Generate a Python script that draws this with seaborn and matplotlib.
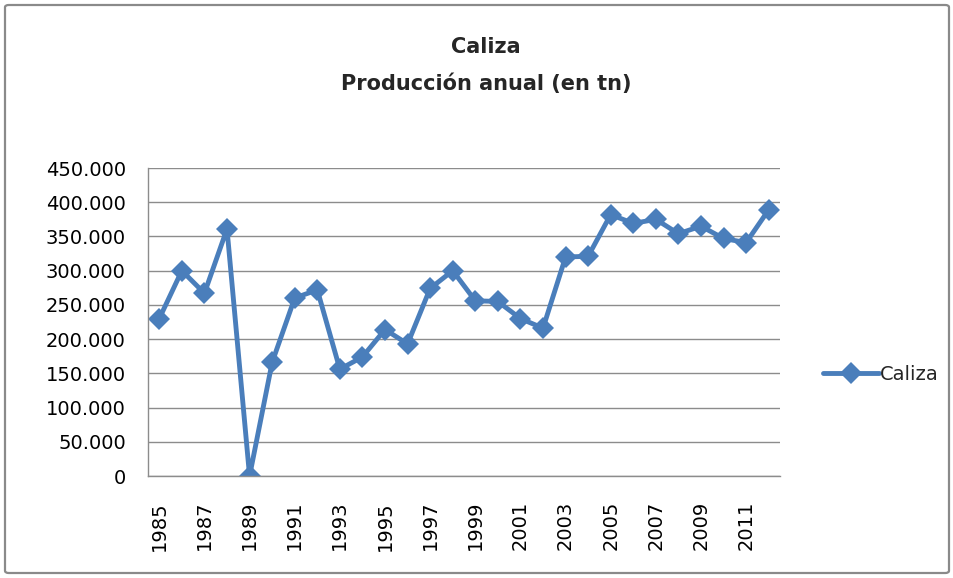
import matplotlib
matplotlib.use("Agg")
import matplotlib.pyplot as plt
import seaborn as sns
import pandas as pd
from matplotlib.ticker import FuncFormatter, FixedLocator
from matplotlib.patches import FancyBboxPatch

years = list(range(1985, 2013))
caliza = [230000, 300000, 267000, 361000, 0, 166000, 260000, 272000, 156000, 174000,
          214000, 193000, 274000, 300000, 256000, 255000, 230000, 216000, 320000, 321000,
          382000, 369000, 375000, 354000, 365000, 347000, 341000, 389000]
series_name = "Caliza"
title_line1 = "Caliza"
title_line2 = "Producción anual (en tn)"

df = pd.DataFrame({"idx": range(len(years)), "year": years, "value": caliza, "serie": series_name})

sns.set_style("white")
plt.rcParams["font.family"] = ["DejaVu Sans"]

fig = plt.figure(figsize=(9.54, 5.78), dpi=100)
ax = fig.add_axes([148/954, 1-476/578, (780-148)/954, (476-168)/578])

color = "#4a7ebb"
sns.lineplot(data=df, x="idx", y="value", hue="serie", palette=[color], marker="D",
             markersize=11, markeredgewidth=0, linewidth=3.5, ax=ax, legend=True)

ax.set_xlim(-0.5, len(years) - 0.5)
ax.set_ylim(0, 450000)
ax.set_yticks(range(0, 450001, 50000))
ax.yaxis.set_major_formatter(FuncFormatter(lambda v, p: f"{int(v):,}".replace(",", ".")))
ax.yaxis.grid(True, color="#8c8c8c", linewidth=1)
ax.set_axisbelow(True)

ax.set_xticks(list(range(0, len(years), 2)))
ax.set_xticklabels([str(y) for y in years[::2]], rotation=90)
ax.xaxis.set_minor_locator(FixedLocator([i - 0.5 for i in range(len(years) + 1)]))
ax.tick_params(axis="x", which="major", length=0, pad=18, labelsize=14, colors="black")
ax.tick_params(axis="x", which="minor", length=6, color="#8c8c8c", direction="out")
ax.tick_params(axis="y", which="major", length=7, color="#8c8c8c", direction="out",
               labelsize=14, pad=9, labelcolor="black")
ax.set_xlabel("")
ax.set_ylabel("")

for s in ["top", "right"]:
    ax.spines[s].set_visible(False)
for s in ["left", "bottom"]:
    ax.spines[s].set_color("#8c8c8c")
    ax.spines[s].set_linewidth(1)

fig.text(486/954, 1-47/578, title_line1, ha="center", va="center", fontsize=15, fontweight="bold")
fig.text(486/954, 1-84/578, title_line2, ha="center", va="center", fontsize=15, fontweight="bold")

leg = ax.legend(loc="center left", bbox_to_anchor=(1.055, 0.33), frameon=False,
                fontsize=14, handlelength=2.9, handletextpad=0.05, borderaxespad=0)

border = FancyBboxPatch((5/954, 5/578), 944/954, 568/578, boxstyle="round,pad=0,rounding_size=0.004",
                        transform=fig.transFigure, fill=False, edgecolor="#8a8a8a", linewidth=1.6)
fig.patches.append(border)

fig.savefig("out.png", dpi=100)
